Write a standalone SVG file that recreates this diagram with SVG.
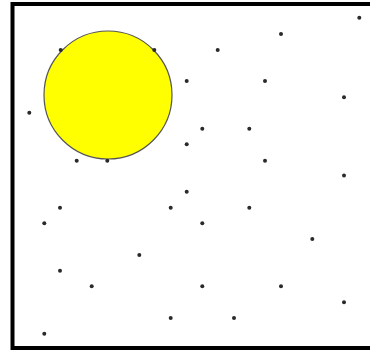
<svg xmlns="http://www.w3.org/2000/svg" width="370" height="352" viewBox="0 0 370 352">
<style>
.dot{fill:#2a2a2a}
</style>
<rect x="0" y="0" width="370" height="352" fill="#fff"/>
<g id="frame"><rect x="12.5" y="4" width="366" height="344" fill="none" stroke="#000" stroke-width="4"/></g>
<g id="sun"><circle cx="108" cy="95" r="64" fill="#ffff00" stroke="#555" stroke-width="1.2"/></g>
<g id="stars">
<circle class="dot" cx="60.7" cy="50" r="2"/>
<circle class="dot" cx="154.3" cy="50" r="2"/>
<circle class="dot" cx="29.3" cy="112.7" r="2"/>
<circle class="dot" cx="76.7" cy="160.7" r="2"/>
<circle class="dot" cx="107.3" cy="160.7" r="2"/>
<circle class="dot" cx="359.3" cy="17.7" r="2"/>
<circle class="dot" cx="281" cy="34" r="2"/>
<circle class="dot" cx="217.7" cy="50" r="2"/>
<circle class="dot" cx="186.7" cy="81" r="2"/>
<circle class="dot" cx="265" cy="81" r="2"/>
<circle class="dot" cx="344" cy="97.3" r="2"/>
<circle class="dot" cx="202.3" cy="128.7" r="2"/>
<circle class="dot" cx="249.3" cy="128.7" r="2"/>
<circle class="dot" cx="186.7" cy="144.3" r="2"/>
<circle class="dot" cx="265" cy="160.7" r="2"/>
<circle class="dot" cx="344" cy="175.5" r="2"/>
<circle class="dot" cx="186.7" cy="191.7" r="2"/>
<circle class="dot" cx="60" cy="207.7" r="2"/>
<circle class="dot" cx="170.7" cy="207.7" r="2"/>
<circle class="dot" cx="44.3" cy="223.3" r="2"/>
<circle class="dot" cx="139.3" cy="255" r="2"/>
<circle class="dot" cx="60" cy="270.7" r="2"/>
<circle class="dot" cx="91.7" cy="286.3" r="2"/>
<circle class="dot" cx="170.7" cy="318" r="2"/>
<circle class="dot" cx="44.3" cy="333.7" r="2"/>
<circle class="dot" cx="249.3" cy="207.7" r="2"/>
<circle class="dot" cx="202.3" cy="223.3" r="2"/>
<circle class="dot" cx="312.3" cy="239" r="2"/>
<circle class="dot" cx="202.3" cy="286.3" r="2"/>
<circle class="dot" cx="281" cy="286.3" r="2"/>
<circle class="dot" cx="344" cy="302.3" r="2"/>
<circle class="dot" cx="234" cy="318" r="2"/>
</g>
</svg>
